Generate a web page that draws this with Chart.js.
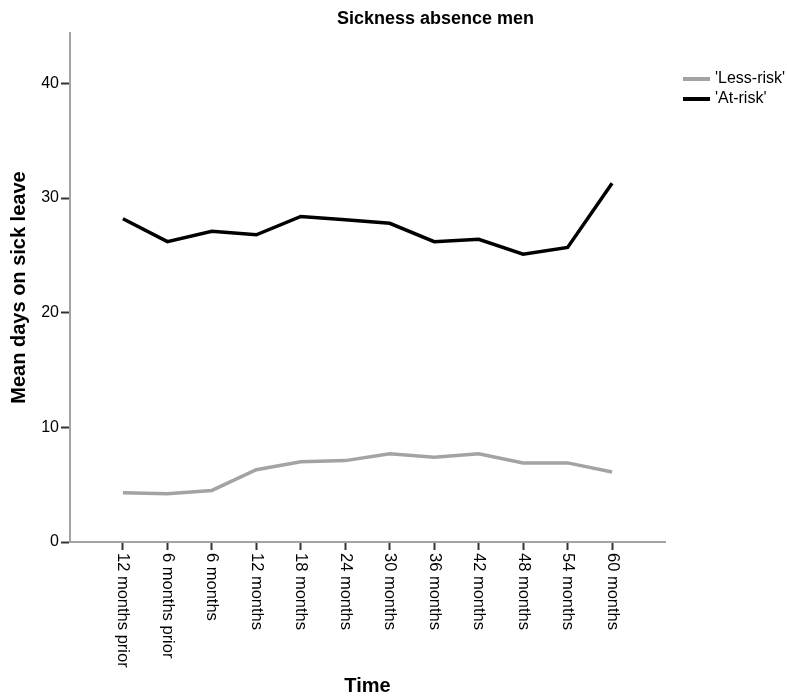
<!DOCTYPE html>
<html>
<head>
<meta charset="utf-8">
<title>Sickness absence men</title>
<script src="https://cdn.jsdelivr.net/npm/chart.js@4/dist/chart.umd.min.js"></script>
<style>
  html, body { margin: 0; padding: 0; background: #ffffff; }
  #wrap { width: 787px; height: 700px; }
</style>
</head>
<body>
<div id="wrap"><canvas id="chart" width="787" height="700"></canvas></div>
<script>
// Measurement points on the time axis
const timeLabels = ['12 months prior', '6 months prior', '6 months', '12 months', '18 months',
  '24 months', '30 months', '36 months', '42 months', '48 months', '54 months', '60 months'];

// Mean days on sick leave per group
const lessRisk = [4.3, 4.2, 4.5, 6.3, 7.0, 7.1, 7.7, 7.4, 7.7, 6.9, 6.9, 6.1];
const atRisk = [28.2, 26.2, 27.1, 26.8, 28.4, 28.1, 27.8, 26.2, 26.4, 25.1, 25.7, 31.3];

const yTicks = [0, 10, 20, 30, 40];
const seriesNames = ["'Less-risk'", "'At-risk'"];

const FONT = '"Liberation Sans", Arial, sans-serif';
const GREY = '#a3a3a3';
const BLACK = '#000000';

const toPoints = arr => arr.map((v, i) => ({ x: i, y: v }));

// Rotated category labels, chart title, axis titles and legend
const decorations = {
  id: 'decorations',
  afterDraw(chart) {
    const ctx = chart.ctx;
    const xs = chart.scales.x;
    const area = chart.chartArea;
    ctx.save();
    ctx.fillStyle = '#000';

    // category labels, reading downwards from each tick
    ctx.font = '16.5px ' + FONT;
    ctx.textAlign = 'left';
    ctx.textBaseline = 'middle';
    timeLabels.forEach((lab, i) => {
      const x = xs.getPixelForValue(i);
      ctx.save();
      ctx.translate(x, area.bottom + 11);
      ctx.rotate(Math.PI / 2);
      ctx.fillText(lab, 0, 0);
      ctx.restore();
    });

    // chart title
    ctx.font = 'bold 18px ' + FONT;
    ctx.textAlign = 'left';
    ctx.fillText('Sickness absence men', 337, 19);

    // x axis title
    ctx.font = 'bold 20px ' + FONT;
    ctx.textAlign = 'center';
    ctx.fillText('Time', (xs.getPixelForValue(0) + xs.getPixelForValue(timeLabels.length - 1)) / 2, 686);

    // y axis title
    ctx.save();
    ctx.translate(19, (area.top + area.bottom) / 2);
    ctx.rotate(-Math.PI / 2);
    ctx.fillText('Mean days on sick leave', 0, 0);
    ctx.restore();

    // legend
    ctx.font = '16px ' + FONT;
    ctx.textAlign = 'left';
    chart.data.datasets.forEach((ds, i) => {
      const y = 79 + i * 20;
      ctx.strokeStyle = ds.borderColor;
      ctx.lineWidth = 4;
      ctx.beginPath();
      ctx.moveTo(683, y);
      ctx.lineTo(710, y);
      ctx.stroke();
      ctx.fillText(ds.label, 715, y);
    });
    ctx.restore();
  }
};

new Chart(document.getElementById('chart'), {
  type: 'line',
  data: {
    datasets: [
      { label: seriesNames[0], data: toPoints(lessRisk), borderColor: GREY, borderWidth: 3.5,
        pointRadius: 0, tension: 0, fill: false },
      { label: seriesNames[1], data: toPoints(atRisk), borderColor: BLACK, borderWidth: 3.5,
        pointRadius: 0, tension: 0, fill: false }
    ]
  },
  options: {
    responsive: false,
    animation: false,
    layout: { padding: { top: 33, right: 122, bottom: 0, left: 0 } },
    plugins: { legend: { display: false }, tooltip: { enabled: false }, title: { display: false } },
    scales: {
      x: {
        type: 'linear',
        min: -1.19,
        max: 12.19,
        afterBuildTicks(scale) { scale.ticks = timeLabels.map((_, i) => ({ value: i })); },
        afterFit(scale) { scale.height = 158; },
        ticks: { display: false },
        grid: { drawOnChartArea: false, drawTicks: true, tickLength: 8, tickColor: '#333', tickWidth: 2 },
        border: { display: true, color: GREY, width: 2 }
      },
      y: {
        min: 0,
        max: 44.4,
        afterBuildTicks(scale) { scale.ticks = yTicks.map(v => ({ value: v })); },
        afterFit(scale) { scale.width = 70; },
        ticks: { color: '#000', font: { family: FONT, size: 16 }, padding: 2 },
        grid: { drawOnChartArea: false, drawTicks: true, tickLength: 9, tickColor: '#333', tickWidth: 2 },
        border: { display: true, color: GREY, width: 2 }
      }
    }
  },
  plugins: [decorations]
});
</script>
</body>
</html>
